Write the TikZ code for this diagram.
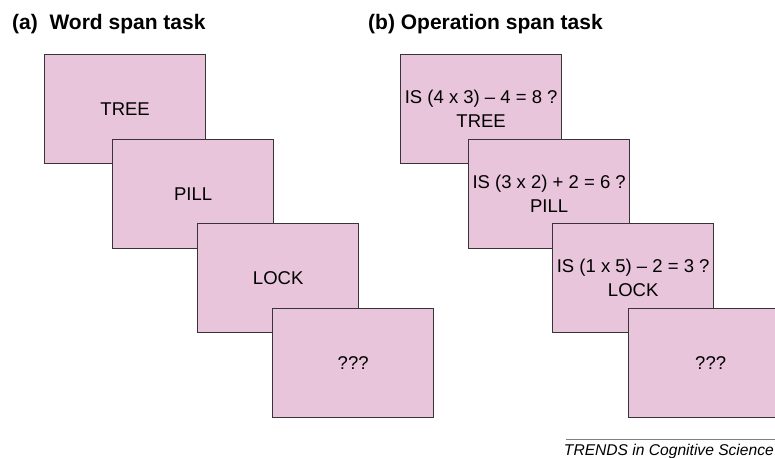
\documentclass[tikz,border=0pt]{standalone}
\usepackage{fontspec}
\setmainfont{Liberation Sans}
\usetikzlibrary{positioning}
\definecolor{cardpink}{RGB}{232,197,219}
\definecolor{cardline}{RGB}{58,52,56}
\begin{document}
\begin{tikzpicture}[x=1pt,y=-1pt,
	span_card/.style={rectangle,draw=cardline,fill=cardpink,line width=1.3pt,
		minimum width=161pt,minimum height=109pt,inner sep=0pt,anchor=north west,
		align=center,font=\fontsize{18.5}{24}\selectfont},
	panel_title/.style={anchor=base west,inner sep=0pt,font=\bfseries\fontsize{21}{25}\selectfont}]
		\clip (0,0) rectangle (775,457);

		% (a) word span
		\node[panel_title] (ta) at (12,30) {(a)\ \ Word span task};
		\node[span_card] (a1) at (44,54) {TREE};
		\node[span_card] (a2) at (112,139) {PILL};
		\node[span_card] (a3) at (197,223) {LOCK};
		\node[span_card] (a4) at (272,308) {???};

		% (b) operation span
		\node[panel_title] (tb) at (368,30) {(b) Operation span task};
		\node[span_card] (b1) at (400,54) {IS (4 x 3) -- 4 = 8 ?\\TREE};
		\node[span_card] (b2) at (468,139) {IS (3 x 2) + 2 = 6 ?\\PILL};
		\node[span_card] (b3) at (552,223) {IS (1 x 5) -- 2 = 3 ?\\LOCK};
		\node[span_card,minimum width=164pt] (b4) at (628,308) {???};

		\node[anchor=base east,inner sep=0pt,font=\itshape\fontsize{15.6}{18}\selectfont] (src) at (774,455) {TRENDS in Cognitive Science};
		\draw[gray,line width=1pt] (566,439) -- (780,439);
		\end{tikzpicture}
\end{document}
